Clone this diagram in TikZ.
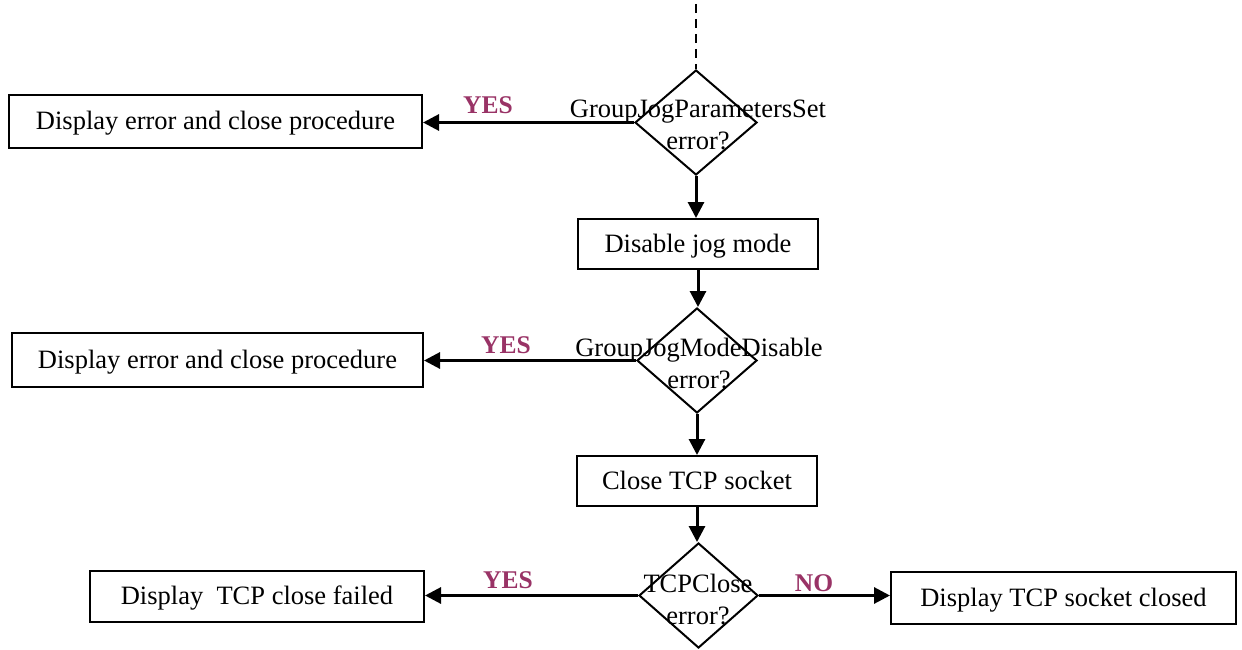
\documentclass[tikz,border=0pt]{standalone}
\usepackage{fontspec}
\setmainfont{Liberation Serif}
\usetikzlibrary{shapes.geometric,arrows.meta}
\definecolor{plum}{RGB}{153,51,102}
\begin{document}
\begin{tikzpicture}[x=1pt,y=-1pt,
  box/.style={draw,line width=2pt,inner sep=0pt,text depth=2pt,font=\fontsize{26.5}{32}\selectfont},
  dia/.style={draw,shape=diamond,line width=2pt,inner sep=0pt},
  dtext/.style={align=center,inner sep=0pt,font=\fontsize{26.5}{32}\selectfont},
  flow/.style={line width=3pt,-{Triangle[length=16pt,width=16pt]}},
  yn/.style={text=plum,font=\fontsize{25.5}{30}\selectfont\bfseries,anchor=base,inner sep=0pt}]
\useasboundingbox (0,0) rectangle (1242,650);
% diamonds
\node[dia,minimum width=122pt,minimum height=105pt] (d1) at (696,122.5) {};
\node[dtext] (d1t) at (698,125) {GroupJogParametersSet\\error?};
\node[dia,minimum width=120pt,minimum height=105pt] (d2) at (697,360.5) {};
\node[dtext] (d2t) at (699,363) {GroupJogModeDisable\\error?};
\node[dia,minimum width=119pt,minimum height=105pt] (d3) at (698.5,595.5) {};
\node[dtext] (d3t) at (698,599) {TCPClose\\error?};
% boxes
\node[box,minimum width=413pt,minimum height=53pt] (b1) at (215.5,121.5) {Display error and close procedure};
\node[box,minimum width=240pt,minimum height=50pt] (jog) at (698,244) {Disable jog mode};
\node[box,minimum width=411pt,minimum height=54pt] (b2) at (217.5,360) {Display error and close procedure};
\node[box,minimum width=240pt,minimum height=50pt] (tcp) at (697,481) {Close TCP socket};
\node[box,minimum width=334pt,minimum height=51pt] (b3) at (257,596) {Display\ \ TCP close failed};
\node[box,minimum width=345pt,minimum height=52pt] (b4) at (1063.5,598) {Display TCP socket closed};
% incoming dashed line
\coordinate (top) at (696,4);
\draw[line width=1.8pt,dash pattern=on 9pt off 6pt] (top) -- (d1.north);
% connectors
\draw[flow] (d1.west) -- (d1.west -| b1.east);
\draw[flow] (d1.south) -- (d1.south |- jog.north);
\draw[flow] (jog.south) -- (jog.south |- d2.north);
\draw[flow] (d2.west) -- (d2.west -| b2.east);
\draw[flow] (d2.south) -- (d2.south |- tcp.north);
\draw[flow] (tcp.south) -- (tcp.south |- d3.north);
\draw[flow] (d3.west) -- (d3.west -| b3.east);
\draw[flow] (d3.east) -- (d3.east -| b4.west);
% labels
\node[yn] (y1) at (488,114) {YES};
\node[yn] (y2) at (506,353) {YES};
\node[yn] (y3) at (508,588) {YES};
\node[yn] (n3) at (814,591) {NO};
\end{tikzpicture}
\end{document}
